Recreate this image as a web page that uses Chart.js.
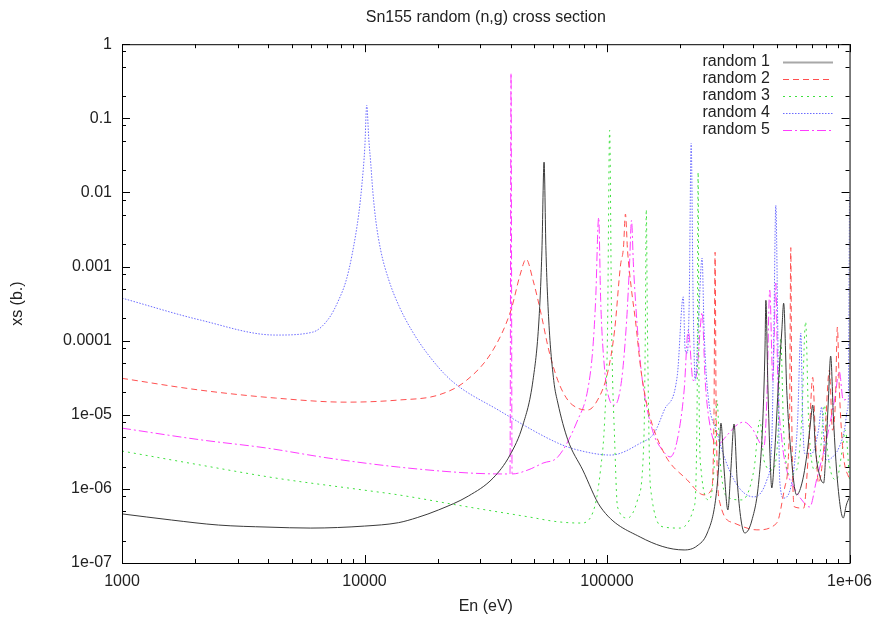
<!DOCTYPE html>
<html>
<head>
<meta charset="utf-8">
<script src="https://cdn.jsdelivr.net/npm/chart.js@4/dist/chart.umd.min.js"></script>
<style>
  html, body { margin: 0; padding: 0; background: #fff; }
  canvas { display: block; }
</style>
</head>
<body>
<canvas id="xsChart" width="881" height="617"></canvas>
<script>
// values (energy in eV, cross section in b.)
const seriesNames = ['random 1', 'random 2', 'random 3', 'random 4', 'random 5'];
const xTickLabels = ['1000', '10000', '100000', '1e+06'];
const yTickLabels = ['1e-07', '1e-06', '1e-05', '0.0001', '0.001', '0.01', '0.1', '1'];

const en1 = [1000, 1600, 2500, 4000, 6000, 10000, 13800, 16500, 20200, 26800, 33900, 39800, 45000, 49500, 52400, 53900, 55000, 56000, 57500, 60300, 62700, 68900, 79400, 94000, 137000, 208000, 235000, 259000, 279000, 288000, 295000, 304000, 315000, 324000, 334000, 344000, 357000, 370000, 396000, 423000, 439000, 448000, 452000, 460000, 469000, 478000, 492000, 510000, 526000, 535000, 551000, 572000, 605000, 641000, 671000, 692000, 705000, 724000, 752000, 782000, 803000, 818000, 836000, 859000, 891000, 942000, 970000, 1000000];
const xs1 = [4.6e-7, 3.8e-7, 3.25e-7, 3.05e-7, 2.96e-7, 3.15e-7, 3.5e-7, 4.1e-7, 5.2e-7, 8.0e-7, 1.4e-6, 2.86e-6, 7.3e-6, 2.9e-5, 1.9e-4, 1.66e-3, 0.0256, 1.66e-3, 1.9e-4, 2.9e-5, 1.44e-5, 4.6e-6, 1.8e-6, 5.7e-7, 2.24e-7, 1.5e-7, 1.7e-7, 2.54e-7, 6.4e-7, 1.8e-6, 7.7e-6, 1.8e-6, 5.2e-7, 1.8e-6, 7.5e-6, 1.32e-6, 3.8e-7, 2.54e-7, 3.8e-7, 1.32e-6, 8.5e-6, 7.5e-5, 3.5e-4, 2.9e-5, 3.35e-6, 1.03e-6, 3.35e-6, 2.9e-5, 1.39e-4, 3.2e-4, 2.15e-5, 3.35e-6, 8.3e-7, 1.32e-6, 3.35e-6, 8.5e-6, 1.35e-5, 3.35e-6, 1.54e-6, 1.2e-6, 4.6e-6, 1.58e-5, 6.2e-5, 8.5e-6, 1.32e-6, 4.05e-7, 6.05e-7, 7.8e-7];

const en2 = [1000, 2100, 4300, 8400, 13800, 20200, 26300, 33900, 40200, 43800, 46400, 49500, 53400, 57500, 62700, 68900, 75700, 83200, 91400, 100500, 107500, 113700, 116900, 119100, 121500, 126200, 130900, 138000, 146800, 172200, 214200, 251300, 269000, 276000, 279000, 282000, 292400, 334000, 415000, 501000, 541000, 566000, 572500, 578000, 594000, 647000, 678000, 705000, 724000, 745000, 789000, 826000, 851000, 875000, 891000, 908000, 942000, 1000000];
const xs2 = [3.1e-5, 2.15e-5, 1.68e-5, 1.48e-5, 1.58e-5, 1.85e-5, 2.9e-5, 7.5e-5, 2.6e-4, 7.7e-4, 1.26e-3, 6.6e-4, 2.35e-4, 7.5e-5, 2.9e-5, 1.58e-5, 1.23e-5, 1.16e-5, 1.58e-5, 3.65e-5, 1.39e-4, 1.05e-3, 1.8e-3, 5.1e-3, 1.66e-3, 4.8e-4, 1.9e-4, 4.0e-5, 1.27e-5, 3.0e-6, 1.32e-6, 8.3e-7, 9.6e-7, 8.5e-6, 1.56e-3, 8.5e-6, 6.4e-7, 3.46e-7, 2.8e-7, 3.46e-7, 1.06e-6, 8.5e-6, 1.8e-3, 8.5e-6, 5.7e-7, 5.5e-7, 3.35e-6, 3.2e-5, 4.6e-6, 1.2e-6, 4.6e-6, 4.0e-5, 6.2e-6, 1.58e-5, 1.52e-4, 2.15e-5, 3.0e-6, 1.32e-6];

const en3 = [1000, 2100, 4300, 10000, 13800, 26800, 47200, 62700, 78000, 88900, 94000, 97800, 100500, 102500, 104500, 107500, 110500, 121500, 133600, 141900, 143900, 145200, 146800, 151000, 172200, 200400, 228600, 235300, 237500, 239700, 244300, 263600, 276000, 284200, 292400, 312600, 360000, 403300, 427000, 443500, 478000, 506000, 520000, 535000, 566000, 605000, 635000, 659000, 678000, 717000, 759000, 789000, 811000, 883000, 933000, 961000, 1000000];
const xs3 = [3.24e-6, 2.1e-6, 1.4e-6, 9.6e-7, 8.3e-7, 5.7e-7, 4.2e-7, 3.6e-7, 3.46e-7, 5.7e-7, 1.8e-6, 8.5e-6, 1.39e-4, 0.069, 1.39e-4, 4.6e-6, 5.7e-7, 4.05e-7, 7.1e-7, 4.6e-6, 1.39e-4, 5.9e-3, 1.39e-4, 1.06e-6, 3.05e-7, 2.96e-7, 5.7e-7, 1.58e-5, 0.0188, 1.58e-5, 1.8e-6, 7.1e-7, 1.8e-6, 1.58e-5, 2.45e-6, 7.8e-7, 7.1e-7, 1.8e-6, 8.5e-6, 2.45e-6, 1.8e-6, 4.6e-6, 1.08e-4, 6.2e-6, 1.54e-6, 1.8e-6, 8.5e-6, 1.8e-4, 8.5e-6, 1.8e-6, 3.35e-6, 1.35e-5, 3.35e-6, 1.32e-6, 3.35e-6, 6.2e-6, 1.32e-6];

const en4 = [1000, 2100, 4300, 6100, 7130, 7845, 8400, 8870, 9480, 9750, 10030, 10210, 10420, 10610, 10810, 11130, 11660, 12590, 13830, 15630, 18350, 22800, 35600, 62700, 75700, 103500, 137300, 156700, 172200, 194900, 206200, 210000, 214200, 218300, 222300, 226500, 231000, 237500, 246600, 251300, 258800, 284200, 334000, 403300, 456000, 478000, 487500, 496600, 506000, 515300, 535400, 588800, 611000, 629500, 641200, 653100, 698000, 744700, 767400, 789000, 803500, 867000, 907800, 952500, 980000, 988600, 1000000];
const xs4 = [3.75e-4, 1.9e-4, 1.19e-4, 1.3e-4, 2.0e-4, 3.6e-4, 6.5e-4, 1.4e-3, 5.3e-3, 0.0125, 0.041, 0.15, 0.051, 0.0248, 0.0107, 4.2e-3, 1.66e-3, 6.6e-4, 3.0e-4, 1.39e-4, 6.4e-5, 2.9e-5, 1.16e-5, 4.15e-6, 3.35e-6, 2.86e-6, 4.15e-6, 5.7e-6, 1.16e-5, 3.4e-5, 3.9e-4, 7.5e-5, 6.8e-5, 3.5e-4, 0.046, 3.5e-4, 2.9e-5, 1.39e-4, 1.3e-3, 1.39e-4, 2.4e-5, 5.7e-6, 1.32e-6, 7.8e-7, 1.32e-6, 4.6e-6, 1.39e-4, 6.7e-3, 1.39e-4, 1.32e-6, 7.5e-7, 1.8e-6, 8.5e-6, 1.26e-4, 8.5e-6, 3.0e-6, 3.0e-6, 6.2e-6, 1.27e-5, 3.35e-6, 2.45e-6, 2.86e-6, 3.7e-6, 6.2e-6, 1.16e-5, 1.58e-5, 9.2e-3];

const en5 = [1000, 2100, 3940, 7130, 13800, 26800, 37300, 39800, 40200, 40600, 47200, 54450, 62700, 75700, 83200, 87300, 89750, 92400, 94150, 97800, 102500, 107500, 114800, 120500, 123800, 126200, 128500, 133600, 139900, 153900, 169000, 182300, 194900, 208000, 216200, 226500, 235300, 242000, 246600, 254000, 263600, 284200, 312600, 343600, 367100, 395600, 443500, 456000, 468800, 482800, 496600, 506000, 526000, 550800, 588800, 635300, 685500, 731100, 803500, 867000, 907800, 942000, 1000000];
const xs5 = [6.6e-6, 4.6e-6, 3.56e-6, 2.6e-6, 1.97e-6, 1.64e-6, 1.59e-6, 1.59e-6, 0.406, 1.59e-6, 1.8e-6, 2.23e-6, 2.7e-6, 8.5e-6, 2.15e-5, 7.5e-5, 3.5e-4, 4.6e-3, 3.5e-4, 4.0e-5, 1.58e-5, 1.35e-5, 2.9e-5, 1.9e-4, 1.05e-3, 4.2e-3, 1.05e-3, 1.39e-4, 2.9e-5, 6.2e-6, 3.35e-6, 2.7e-6, 4.6e-6, 2.15e-5, 1.39e-4, 2.9e-5, 4.0e-5, 1.39e-4, 2.4e-4, 2.9e-5, 8.5e-6, 3.9e-6, 5.3e-6, 7.3e-6, 8.0e-6, 6.6e-6, 3.7e-6, 1.58e-5, 4.8e-4, 2.9e-5, 6.0e-4, 2.9e-5, 4.6e-6, 1.8e-6, 1.06e-6, 7.1e-7, 5.7e-7, 1.32e-6, 4.6e-6, 1.58e-5, 3.8e-5, 1.58e-5, 1.68e-5];

const energies = [en1, en2, en3, en4, en5];
const crossSections = [xs1, xs2, xs3, xs4, xs5];
const lineColors = ['#3a3a3a', '#ff5050', '#3ee03e', '#6b6bff', '#ff3cff'];
const lineDashes = [[], [6, 4], [2, 4], [1.5, 1.5], [9, 3, 2, 3]];

const xMajor = [1e3, 1e4, 1e5, 1e6];
const yMajor = [1e-7, 1e-6, 1e-5, 1e-4, 1e-3, 1e-2, 1e-1, 1];

const FONT = '"Liberation Sans", Arial, sans-serif';

// gnuplot style frame: box, inward ticks on all sides, key in the corner
const gnuplotFrame = {
  id: 'gnuplotFrame',
  beforeDraw: (chart) => {
    const ctx = chart.ctx;
    ctx.save();
    ctx.fillStyle = 'white';
    ctx.fillRect(0, 0, chart.width, chart.height);
    ctx.restore();
  },
  afterDraw: (chart) => {
    const ctx = chart.ctx;
    const a = chart.chartArea;
    const xs = chart.scales.x, ys = chart.scales.y;
    ctx.save();
    ctx.strokeStyle = '#000';
    ctx.lineWidth = 1;
    ctx.setLineDash([]);
    ctx.strokeRect(a.left + 0.5, a.top + 0.5, a.right - a.left, a.bottom - a.top);

    const tick = (x1, y1, x2, y2) => {
      ctx.beginPath();
      ctx.moveTo(x1, y1);
      ctx.lineTo(x2, y2);
      ctx.stroke();
    };
    xMajor.forEach((v, i) => {
      const px = Math.round(xs.getPixelForValue(v)) + 0.5;
      tick(px, a.bottom, px, a.bottom - 8);
      tick(px, a.top, px, a.top + 8);
      if (i < xMajor.length - 1) {
        for (let k = 2; k <= 9; k++) {
          const mx = Math.round(xs.getPixelForValue(v * k)) + 0.5;
          tick(mx, a.bottom, mx, a.bottom - 4);
          tick(mx, a.top, mx, a.top + 4);
        }
      }
    });
    yMajor.forEach((v, i) => {
      const py = Math.round(ys.getPixelForValue(v)) + 0.5;
      tick(a.left, py, a.left + 8, py);
      tick(a.right, py, a.right - 8, py);
      if (i < yMajor.length - 1) {
        [2, 5, 8].forEach((k) => {
          const my = Math.round(ys.getPixelForValue(v * k)) + 0.5;
          tick(a.left, my, a.left + 4, my);
          tick(a.right, my, a.right - 4, my);
        });
      }
    });

    // key
    ctx.font = '16px ' + FONT;
    ctx.textAlign = 'right';
    ctx.textBaseline = 'middle';
    chart.data.datasets.forEach((ds, i) => {
      const yy = 62 + i * 17;
      ctx.fillStyle = '#222';
      ctx.fillText(ds.label, 770, yy);
      ctx.strokeStyle = i === 0 ? '#a8a8a8' : ds.borderColor;
      ctx.lineWidth = i === 0 ? 2 : 1;
      ctx.setLineDash(ds.borderDash);
      tick(783, yy + 0.5, 833, yy + 0.5);
    });
    ctx.restore();
  }
};

const datasets = seriesNames.map((name, s) => ({
  label: name,
  data: energies[s].map((e, i) => ({x: e, y: crossSections[s][i]})),
  borderColor: lineColors[s],
  borderWidth: 1,
  borderDash: lineDashes[s],
  pointRadius: 0,
  cubicInterpolationMode: 'monotone',
  fill: false
}));

const chart_xs = new Chart(document.getElementById('xsChart'), {
  type: 'line',
  data: { datasets: datasets },
  options: {
    animation: false,
    responsive: false,
    devicePixelRatio: 1,
    layout: { padding: { left: 0, right: 28, top: 0, bottom: 0 } },
    plugins: {
      legend: { display: false },
      tooltip: { enabled: false },
      title: {
        display: true,
        fullSize: false,
        text: 'Sn155 random (n,g) cross section',
        color: '#222',
        font: { family: FONT, size: 16, weight: 'normal' },
        padding: { top: 8, bottom: 17 }
      }
    },
    scales: {
      x: {
        type: 'logarithmic',
        min: 1000,
        max: 1e6,
        grid: { display: false, drawTicks: false },
        border: { display: false },
        afterBuildTicks: (scale) => { scale.ticks = xMajor.map((v) => ({value: v})); },
        afterFit: (scale) => { scale.height = 54; },
        ticks: {
          autoSkip: false,
          maxRotation: 0,
          padding: 9,
          color: '#222',
          font: { family: FONT, size: 16 },
          callback: (value, index) => xTickLabels[index]
        },
        title: {
          display: true,
          text: 'En (eV)',
          color: '#222',
          font: { family: FONT, size: 16 },
          padding: { top: 0, bottom: 1 }
        }
      },
      y: {
        type: 'logarithmic',
        min: 1e-7,
        max: 1,
        grid: { display: false, drawTicks: false },
        border: { display: false },
        afterBuildTicks: (scale) => { scale.ticks = yMajor.map((v) => ({value: v})); },
        afterFit: (scale) => { scale.width = 122; },
        ticks: {
          autoSkip: false,
          padding: 10,
          color: '#222',
          font: { family: FONT, size: 16 },
          callback: (value, index) => yTickLabels[index]
        },
        title: {
          display: true,
          text: 'xs (b.)',
          color: '#222',
          font: { family: FONT, size: 16 },
          padding: { top: 8, bottom: 0 }
        }
      }
    }
  },
  plugins: [gnuplotFrame]
});
</script>
</body>
</html>
